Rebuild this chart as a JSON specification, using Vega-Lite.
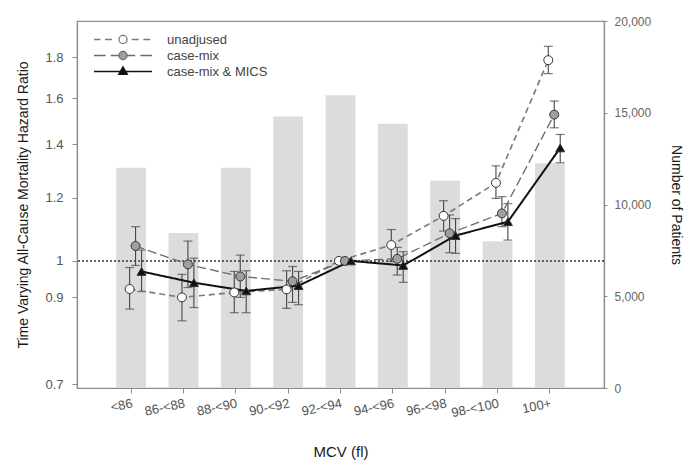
{
  "$schema": "https://vega.github.io/schema/vega-lite/v6.json",
  "width": 527,
  "height": 367,
  "autosize": {"type": "none"},
  "padding": {"left": 77, "top": 21, "right": 86, "bottom": 74},
  "background": "white",
  "config": {
    "font": "Liberation Sans",
    "view": {"stroke": "#8c8c8c", "strokeWidth": 1.2},
    "axis": {
      "domainColor": "#8c8c8c",
      "domainWidth": 1.2,
      "tickColor": "#8c8c8c",
      "labelColor": "#555555",
      "labelFontSize": 13,
      "titleFontSize": 14,
      "titleColor": "#1a1a1a",
      "titleFontWeight": "normal",
      "grid": false
    }
  },
  "datasets": {
    "bars": [
      {"mcv": "<86", "patients": 12000},
      {"mcv": "86-<88", "patients": 8450},
      {"mcv": "88-<90", "patients": 12000},
      {"mcv": "90-<92", "patients": 14800},
      {"mcv": "92-<94", "patients": 15950},
      {"mcv": "94-<96", "patients": 14400},
      {"mcv": "96-<98", "patients": 11300},
      {"mcv": "98-<100", "patients": 8000},
      {"mcv": "100+", "patients": 12250}
    ],
    "hr": [
      {"mcv": "<86", "series": "unadjused", "hr": 0.922, "lo": 0.870, "hi": 0.981},
      {"mcv": "86-<88", "series": "unadjused", "hr": 0.900, "lo": 0.841, "hi": 0.962},
      {"mcv": "88-<90", "series": "unadjused", "hr": 0.913, "lo": 0.861, "hi": 0.970},
      {"mcv": "90-<92", "series": "unadjused", "hr": 0.921, "lo": 0.872, "hi": 0.972},
      {"mcv": "92-<94", "series": "unadjused", "hr": 1.0, "lo": null, "hi": null},
      {"mcv": "94-<96", "series": "unadjused", "hr": 1.047, "lo": 0.998, "hi": 1.095},
      {"mcv": "96-<98", "series": "unadjused", "hr": 1.139, "lo": 1.090, "hi": 1.190},
      {"mcv": "98-<100", "series": "unadjused", "hr": 1.253, "lo": 1.198, "hi": 1.316},
      {"mcv": "100+", "series": "unadjused", "hr": 1.786, "lo": 1.718, "hi": 1.859},
      {"mcv": "<86", "series": "case-mix", "hr": 1.044, "lo": 0.987, "hi": 1.104},
      {"mcv": "86-<88", "series": "case-mix", "hr": 0.990, "lo": 0.926, "hi": 1.059},
      {"mcv": "88-<90", "series": "case-mix", "hr": 0.956, "lo": 0.900, "hi": 1.017},
      {"mcv": "90-<92", "series": "case-mix", "hr": 0.943, "lo": 0.887, "hi": 0.984},
      {"mcv": "92-<94", "series": "case-mix", "hr": 1.0, "lo": null, "hi": null},
      {"mcv": "94-<96", "series": "case-mix", "hr": 1.006, "lo": 0.960, "hi": 1.040},
      {"mcv": "96-<98", "series": "case-mix", "hr": 1.083, "lo": 1.024, "hi": 1.142},
      {"mcv": "98-<100", "series": "case-mix", "hr": 1.147, "lo": 1.104, "hi": 1.204},
      {"mcv": "100+", "series": "case-mix", "hr": 1.526, "lo": 1.469, "hi": 1.587},
      {"mcv": "<86", "series": "case-mix & MICS", "hr": 0.970, "lo": 0.915, "hi": 1.032},
      {"mcv": "86-<88", "series": "case-mix & MICS", "hr": 0.939, "lo": 0.874, "hi": 1.008},
      {"mcv": "88-<90", "series": "case-mix & MICS", "hr": 0.917, "lo": 0.861, "hi": 0.972},
      {"mcv": "90-<92", "series": "case-mix & MICS", "hr": 0.931, "lo": 0.881, "hi": 0.970},
      {"mcv": "92-<94", "series": "case-mix & MICS", "hr": 1.0, "lo": null, "hi": null},
      {"mcv": "94-<96", "series": "case-mix & MICS", "hr": 0.987, "lo": 0.940, "hi": 1.027},
      {"mcv": "96-<98", "series": "case-mix & MICS", "hr": 1.076, "lo": 1.022, "hi": 1.130},
      {"mcv": "98-<100", "series": "case-mix & MICS", "hr": 1.120, "lo": 1.062, "hi": 1.180},
      {"mcv": "100+", "series": "case-mix & MICS", "hr": 1.386, "lo": 1.328, "hi": 1.441}
    ]
  },
  "resolve": {"scale": {"y": "independent"}},
  "layer": [
    {
      "data": {"name": "bars"},
      "mark": {"type": "bar", "color": "#dcdcdc"},
      "encoding": {
        "x": {
          "field": "mcv", "type": "nominal",
          "sort": ["<86", "86-<88", "88-<90", "90-<92", "92-<94", "94-<96", "96-<98", "98-<100", "100+"],
          "scale": {"paddingInner": 0.43, "paddingOuter": 0.75},
          "axis": {"title": "MCV (fl)", "labelAngle": -12, "labelAlign": "right", "labelBaseline": "top", "labelPadding": 4, "tickSize": 5, "titlePadding": 25, "titleFontSize": 15}
        },
        "y": {
          "field": "patients", "type": "quantitative",
          "scale": {"domain": [0, 20000]},
          "axis": {"orient": "right", "title": "Number of Patients", "values": [0, 5000, 10000, 15000, 20000], "format": ",.0f", "tickSize": 3, "labelPadding": 7, "labelFontSize": 12, "labelColor": "#666666", "titlePadding": 18}
        }
      }
    },
    {
      "data": {"name": "hr"},
      "layer": [
        {
          "data": {"values": [{}]},
          "mark": {"type": "rule", "strokeDash": [2, 2], "color": "#333333", "strokeWidth": 1.5},
          "encoding": {"y": {"datum": 1}}
        },
        {
          "mark": {"type": "rule", "color": "#444444", "strokeWidth": 1.1},
          "encoding": {
            "x": {"field": "mcv", "type": "nominal", "sort": ["<86", "86-<88", "88-<90", "90-<92", "92-<94", "94-<96", "96-<98", "98-<100", "100+"]},
            "xOffset": {"field": "series", "type": "nominal", "sort": ["unadjused", "case-mix", "case-mix & MICS"], "scale": {"paddingInner": 0, "paddingOuter": 1.37, "align": 0.87}},
            "y": {"field": "lo", "type": "quantitative"},
            "y2": {"field": "hi"}
          }
        },
        {
          "mark": {"type": "tick", "color": "#444444", "thickness": 1.2, "size": 9},
          "encoding": {
            "x": {"field": "mcv", "type": "nominal", "sort": ["<86", "86-<88", "88-<90", "90-<92", "92-<94", "94-<96", "96-<98", "98-<100", "100+"]},
            "xOffset": {"field": "series", "type": "nominal", "sort": ["unadjused", "case-mix", "case-mix & MICS"]},
            "y": {"field": "lo", "type": "quantitative"}
          }
        },
        {
          "mark": {"type": "tick", "color": "#444444", "thickness": 1.2, "size": 9},
          "encoding": {
            "x": {"field": "mcv", "type": "nominal", "sort": ["<86", "86-<88", "88-<90", "90-<92", "92-<94", "94-<96", "96-<98", "98-<100", "100+"]},
            "xOffset": {"field": "series", "type": "nominal", "sort": ["unadjused", "case-mix", "case-mix & MICS"]},
            "y": {"field": "hi", "type": "quantitative"}
          }
        },
        {
          "mark": {"type": "line"},
          "encoding": {
            "x": {"field": "mcv", "type": "nominal", "sort": ["<86", "86-<88", "88-<90", "90-<92", "92-<94", "94-<96", "96-<98", "98-<100", "100+"]},
            "xOffset": {"field": "series", "type": "nominal", "sort": ["unadjused", "case-mix", "case-mix & MICS"]},
            "y": {
              "field": "hr", "type": "quantitative",
              "scale": {"type": "log", "domain": [0.6927, 2.0], "nice": false},
              "axis": {"orient": "left", "title": "Time Varying All-Cause Mortality Hazard Ratio", "values": [0.7, 0.9, 1, 1.2, 1.4, 1.6, 1.8], "format": "~g", "tickSize": 5, "labelPadding": 9, "titlePadding": 14}
            },
            "strokeDash": {
              "field": "series", "type": "nominal",
              "scale": {"domain": ["case-mix", "unadjused", "case-mix & MICS"], "range": [[9, 4], [6, 4], [1, 0]]},
              "legend": null
            },
            "strokeWidth": {
              "field": "series", "type": "nominal",
              "scale": {"domain": ["case-mix & MICS", "unadjused", "case-mix"], "range": [2, 1.3, 1.4]},
              "legend": null
            },
            "stroke": {
              "field": "series", "type": "nominal",
              "scale": {"domain": ["unadjused", "case-mix", "case-mix & MICS"], "range": ["#7a7a7a", "#6a6a6a", "#111111"]},
              "legend": {
                "title": null,
                "orient": "none",
                "legendX": 16,
                "legendY": 11,
                "symbolSize": 3364,
                "symbolStrokeWidth": 1.3,
                "clipHeight": 15,
                "labelFontSize": 13,
                "labelColor": "#444444",
                "labelOffset": 14,
                "rowPadding": 1,
                "encode": {
                  "symbols": {
                    "update": {
                      "shape": {"signal": "datum.value === 'unadjused' ? 'M-1,0H-0.78M-0.62,0H-0.38M-0.14,0A0.14,0.14,0,1,1,0.14,0A0.14,0.14,0,1,1,-0.14,0ZM0.3,0H0.54M0.7,0H0.94' : datum.value === 'case-mix' ? 'M-1,0H-0.6M-0.42,0H-0.14M-0.14,0A0.14,0.14,0,1,1,0.14,0A0.14,0.14,0,1,1,-0.14,0ZM0.14,0H0.42M0.6,0H1' : 'M-1,0H1M0,-0.16L0.15,0.1L-0.15,0.1Z'"},
                      "fill": {"signal": "datum.value === 'unadjused' ? 'white' : datum.value === 'case-mix' ? '#a0a0a0' : '#111111'"}
                    }
                  }
                }
              }
            }
          }
        },
        {
          "mark": {"type": "point", "filled": true, "size": 80, "stroke": "#333333", "strokeWidth": 1, "opacity": 1},
          "encoding": {
            "x": {"field": "mcv", "type": "nominal", "sort": ["<86", "86-<88", "88-<90", "90-<92", "92-<94", "94-<96", "96-<98", "98-<100", "100+"]},
            "xOffset": {"field": "series", "type": "nominal", "sort": ["unadjused", "case-mix", "case-mix & MICS"]},
            "y": {"field": "hr", "type": "quantitative"},
            "shape": {
              "field": "series", "type": "nominal",
              "scale": {"domain": ["unadjused", "case-mix & MICS", "case-mix"], "range": ["circle", "triangle-up", "circle"]},
              "legend": null
            },
            "fill": {
              "field": "series", "type": "nominal",
              "scale": {"domain": ["case-mix & MICS", "case-mix", "unadjused"], "range": ["#111111", "#a0a0a0", "white"]},
              "legend": null
            }
          }
        }
      ]
    }
  ]
}
